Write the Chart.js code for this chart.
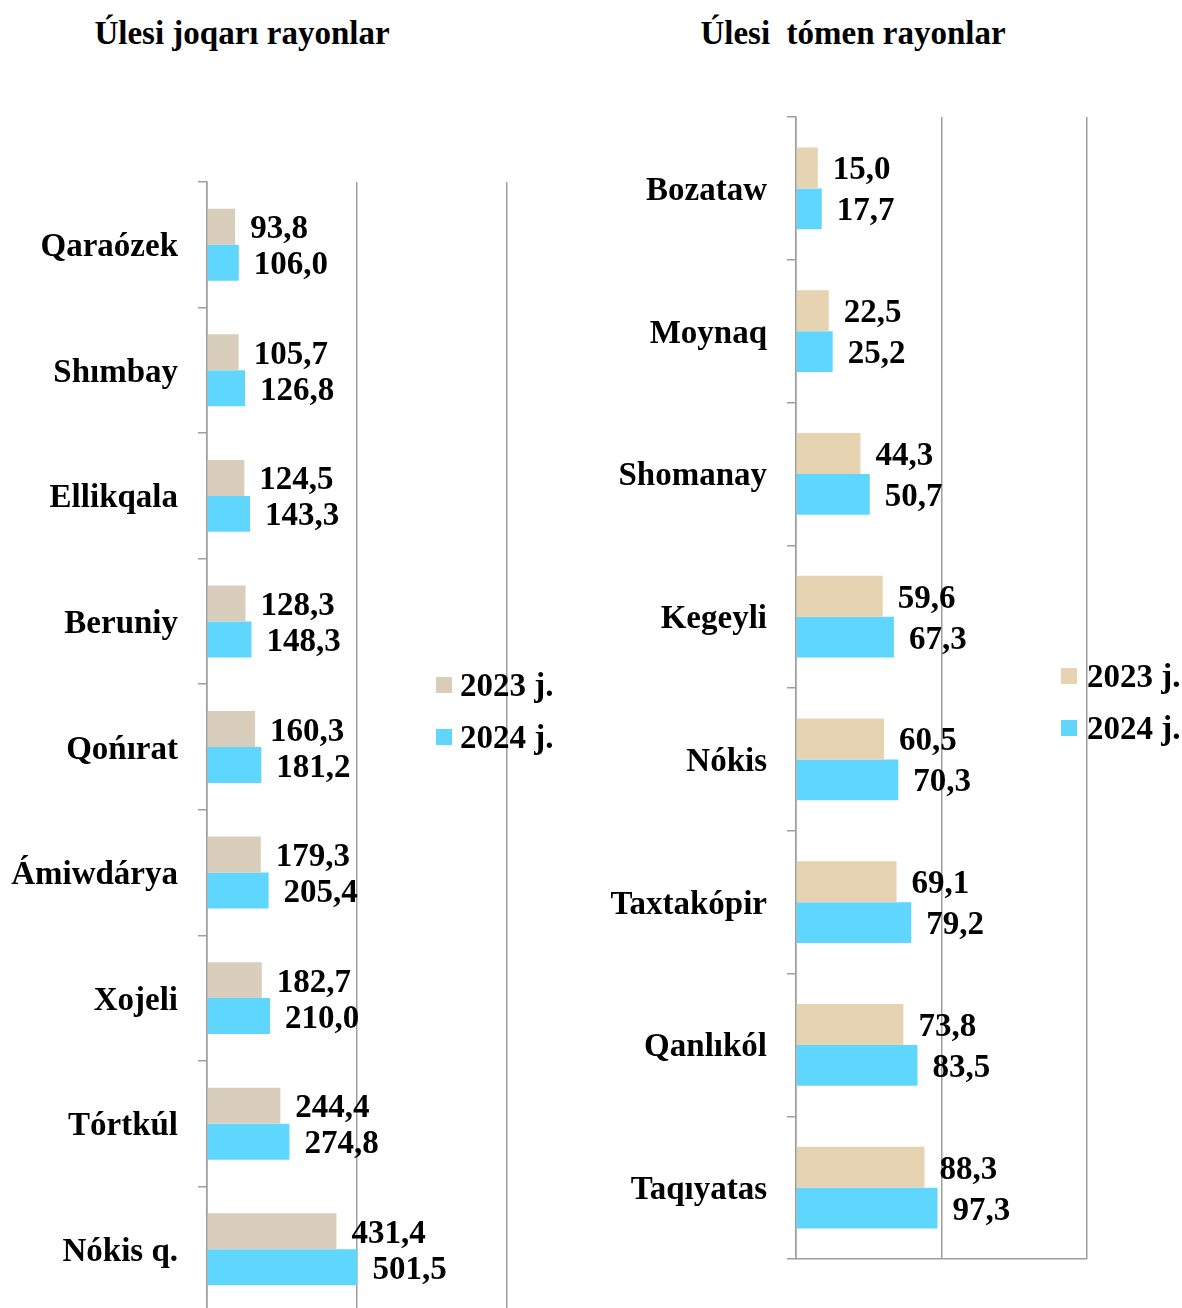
<!DOCTYPE html>
<html>
<head>
<meta charset="utf-8">
<script src="https://cdn.jsdelivr.net/npm/chart.js@4.4.1/dist/chart.umd.min.js"></script>
<style>
  html, body { margin: 0; padding: 0; background: #fff; overflow: hidden; width: 1182px; height: 1308px; }
  canvas { position: absolute; top: 0; }
  .title { position: absolute; font-family: 'Liberation Serif', 'Times New Roman', serif; font-weight: bold; font-size: 33px; line-height: 38px; color: #000; white-space: pre; transform: translateX(-50%); }
</style>
</head>
<body>
<div class="title" id="t1" style="left:242px; top:14px;"></div>
<div class="title" id="t2" style="left:853px; top:14px;"></div>
<canvas id="c1" width="600" height="1320" style="left:0; width:600px; height:1320px;"></canvas>
<canvas id="c2" width="591" height="1308" style="left:591px; width:591px; height:1308px;"></canvas>
<script>
const titleLeft = "Úlesi joqarı rayonlar";
const titleRight = "Úlesi  tómen rayonlar";
const seriesNames = ["2023 j.", "2024 j."];

const leftCategories = ["Qaraózek", "Shımbay", "Ellikqala", "Beruniy", "Qońırat", "Ámiwdárya", "Xojeli", "Tórtkúl", "Nókis q."];
const left2023 = [93.8, 105.7, 124.5, 128.3, 160.3, 179.3, 182.7, 244.4, 431.4];
const left2024 = [106.0, 126.8, 143.3, 148.3, 181.2, 205.4, 210.0, 274.8, 501.5];

const rightCategories = ["Bozataw", "Moynaq", "Shomanay", "Kegeyli", "Nókis", "Taxtakópir", "Qanlıkól", "Taqıyatas"];
const right2023 = [15.0, 22.5, 44.3, 59.6, 60.5, 69.1, 73.8, 88.3];
const right2024 = [17.7, 25.2, 50.7, 67.3, 70.3, 79.2, 83.5, 97.3];

document.getElementById('t1').textContent = titleLeft;
document.getElementById('t2').textContent = titleRight;

const FONT = "'Liberation Serif', 'Times New Roman', serif";
const FS = 33;
const BLUE = '#5ED6FE';
const GRID = '#9E9E9E';

const labelPlugin = {
  id: 'valueLabels',
  afterDatasetsDraw(chart) {
    const ctx = chart.ctx;
    ctx.save();
    ctx.font = 'bold ' + FS + 'px ' + FONT;
    ctx.fillStyle = '#000';
    ctx.textAlign = 'left';
    ctx.textBaseline = 'middle';
    chart.data.datasets.forEach((ds, di) => {
      chart.getDatasetMeta(di).data.forEach((bar, i) => {
        const txt = ds.data[i].toFixed(1).replace('.', ',');
        ctx.fillText(txt, bar.x + 15, bar.y + 3);
      });
    });
    ctx.restore();
  }
};

const legendPlugin = {
  id: 'customLegend',
  afterDraw(chart) {
    const o = chart.options.plugins.customLegend;
    const ctx = chart.ctx;
    ctx.save();
    ctx.font = 'bold ' + FS + 'px ' + FONT;
    ctx.textAlign = 'left';
    ctx.textBaseline = 'middle';
    chart.data.datasets.forEach((ds, i) => {
      const y = o.y + i * o.gap;
      ctx.fillStyle = ds.backgroundColor;
      ctx.fillRect(o.x, y - 8, 16, 16);
      ctx.fillStyle = '#000';
      ctx.fillText(ds.label, o.x + o.textDx, y + 2);
    });
    ctx.restore();
  }
};

function makeChart(id, cats, a, b, beige, max, step, yWidth, pad, legend) {
  return new Chart(document.getElementById(id), {
    type: 'bar',
    data: {
      labels: cats,
      datasets: [
        { label: seriesNames[0], data: a, backgroundColor: beige, borderWidth: 0, categoryPercentage: 0.573, barPercentage: 1.0 },
        { label: seriesNames[1], data: b, backgroundColor: BLUE, borderWidth: 0, categoryPercentage: 0.573, barPercentage: 1.0 }
      ]
    },
    options: {
      indexAxis: 'y',
      responsive: false,
      maintainAspectRatio: false,
      devicePixelRatio: 1,
      animation: false,
      layout: { padding: pad },
      plugins: {
        legend: { display: false },
        tooltip: { enabled: false },
        customLegend: legend
      },
      scales: {
        x: {
          min: 0, max: max,
          ticks: { display: false, stepSize: step },
          grid: { color: GRID, lineWidth: 1.5, drawTicks: false },
          border: { display: true, color: GRID, width: 1.5 },
          afterFit: s => { s.height = 0; s.paddingLeft = 0; s.paddingRight = 0; }
        },
        y: {
          ticks: { color: '#000', font: { family: FONT, size: FS, weight: 'bold' }, padding: 20, labelOffset: 3 },
          grid: { drawOnChartArea: false, drawTicks: true, tickLength: 9, color: GRID, lineWidth: 1.5, offset: true },
          border: { display: true, color: GRID, width: 1.5 },
          afterFit: s => { s.width = yWidth; s.paddingTop = 0; s.paddingBottom = 0; }
        }
      }
    },
    plugins: [labelPlugin, legendPlugin]
  });
}

makeChart('c1', leftCategories, left2023, left2024, '#D9CEBB', 1000, 500, 207,
  { top: 182, bottom: 8, left: 0, right: 93 },
  { x: 436, y: 685, gap: 52, textDx: 24 });

makeChart('c2', rightCategories, right2023, right2024, '#E6D3B2', 200, 100, 205,
  { top: 117, bottom: 49, left: 0, right: 95 },
  { x: 470, y: 676, gap: 52, textDx: 26 });
</script>
</body>
</html>
